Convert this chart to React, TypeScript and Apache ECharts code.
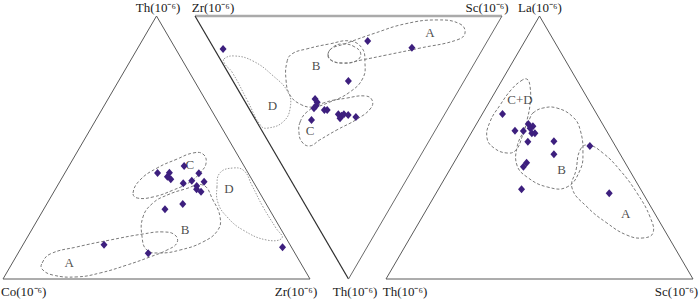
import { useEffect, useRef } from "react";
import * as echarts from "echarts";

type Tern = [number, number, number];

// ---------- Diagram 1: Th (apex) – Co (lower left) – Zr (lower right); values [Th, Co, Zr] %
const thCoZrSamples: Tern[] = [
  [40.3, 29.5, 30.2], [40.4, 25.6, 34.0], [38.9, 27.0, 34.1], [37.9, 26.4, 35.7],
  [43.0, 19.5, 37.5], [40.2, 16.1, 43.7], [36.4, 23.1, 40.5], [37.4, 19.8, 42.8],
  [37.0, 16.0, 47.0], [35.4, 19.2, 45.4], [34.1, 19.9, 46.0], [33.2, 18.9, 47.9],
  [28.5, 27.2, 44.3], [26.5, 34.0, 39.5], [13.0, 60.6, 26.4], [9.8, 47.8, 42.4],
  [12.1, 2.9, 85.0],
];
const thCoZrFieldC: Tern[] = [
  [32.7, 41.3, 26.0], [37.6, 36.6, 25.8], [42.2, 28.7, 29.1], [45.6, 20.5, 33.9],
  [47.9, 14.2, 37.9], [47.5, 11.1, 41.4], [44.1, 11.8, 44.1], [40.3, 15.7, 44.0],
  [36.9, 20.6, 42.5], [33.8, 27.7, 38.5], [31.2, 35.5, 33.3], [30.8, 40.9, 28.3],
];
const thCoZrFieldB: Tern[] = [
  [31.9, 30.6, 37.5], [34.2, 23.6, 42.2], [35.7, 17.0, 47.3], [30.0, 16.6, 53.4],
  [23.6, 17.5, 58.9], [18.6, 20.7, 60.7], [14.1, 27.8, 58.1], [11.0, 36.9, 52.1],
  [9.9, 43.9, 46.2], [11.0, 47.6, 41.4], [16.0, 46.7, 37.3], [23.6, 42.6, 33.8],
  [28.9, 36.7, 34.4],
];
const thCoZrFieldA: Tern[] = [
  [6.1, 84.2, 9.7], [9.5, 79.9, 10.6], [12.2, 69.8, 18.0], [14.8, 57.8, 27.4],
  [17.1, 45.9, 37.0], [17.9, 38.9, 43.2], [16.7, 35.6, 47.7], [13.7, 36.5, 49.8],
  [11.0, 41.1, 47.9], [8.4, 47.9, 43.7], [5.3, 57.0, 37.7], [2.3, 67.2, 30.5],
  [0.8, 75.5, 23.7], [1.5, 83.0, 15.5], [3.8, 85.4, 10.8],
];
const thCoZrFieldD: Tern[] = [
  [35.0, 12.8, 52.2], [40.3, 9.2, 50.5], [42.2, 4.0, 53.8], [41.1, 0.9, 58.0],
  [35.7, 1.1, 63.2], [27.4, 1.6, 71.0], [19.4, 1.4, 79.2], [15.6, 1.3, 83.1],
  [14.8, 6.6, 78.6], [18.6, 12.5, 68.9], [23.6, 15.2, 61.2], [28.9, 15.5, 55.6],
];
const thCoZrFieldNames = ["C", "D", "B", "A"];
const thCoZrFieldLabelPos: Tern[] = [
  [43.7, 17.3, 39.0], [34.6, 9.1, 56.3], [19.0, 31.2, 49.8], [6.1, 75.4, 18.5],
];

// ---------- Diagram 2 (inverted): Zr (upper left) – Sc (upper right) – Th (bottom); values [Th, Zr, Sc] %
const thZrScSamples: Tern[] = [
  [12.5, 84.6, 2.9], [9.5, 39.0, 51.5], [12.1, 23.3, 64.6], [24.7, 37.7, 37.6],
  [31.6, 45.1, 23.3], [32.8, 43.8, 23.4], [34.1, 43.5, 22.4], [35.1, 43.7, 21.2],
  [35.7, 40.0, 24.3], [35.7, 39.1, 25.2], [39.5, 42.3, 18.2], [37.4, 34.6, 28.0],
  [37.9, 33.3, 28.8], [37.4, 32.8, 29.8], [37.6, 31.3, 31.1], [38.9, 33.3, 27.8],
  [38.4, 28.4, 33.2],
];
const thZrScFieldA: Tern[] = [
  [12.9, 49.6, 37.5], [10.6, 45.9, 43.5], [6.5, 38.1, 55.4], [3.0, 30.1, 66.9],
  [1.5, 20.4, 78.1], [3.0, 12.2, 84.8], [6.5, 8.8, 84.7], [9.1, 10.1, 80.8],
  [12.2, 20.6, 67.2], [14.8, 30.1, 55.1], [16.7, 37.3, 46.0], [17.9, 42.8, 39.3],
  [16.3, 47.9, 35.8],
];
const thZrScFieldALoop: Tern[] = [
  [14.8, 49.3, 35.9], [11.8, 49.1, 39.1], [10.6, 46.5, 42.9], [11.8, 42.0, 46.2],
  [14.4, 38.8, 46.8], [17.1, 39.0, 43.9], [17.9, 42.8, 39.3], [17.1, 46.8, 36.1],
];
const thZrScFieldB: Tern[] = [
  [17.5, 61.3, 21.2], [14.4, 61.2, 24.4], [12.5, 57.3, 30.2], [10.6, 50.8, 38.6],
  [9.5, 44.8, 45.7], [12.2, 39.5, 48.3], [17.5, 35.9, 46.6], [23.6, 33.5, 42.9],
  [28.9, 35.1, 36.0], [32.7, 39.7, 27.6], [34.6, 44.3, 21.1], [33.5, 49.0, 17.5],
  [30.0, 54.1, 15.9], [24.3, 58.2, 17.5],
];
const thZrScFieldC: Tern[] = [
  [40.3, 45.6, 14.1], [36.5, 45.3, 18.2], [33.1, 41.7, 25.2], [31.2, 34.9, 33.9],
  [30.4, 29.4, 40.2], [31.9, 26.4, 41.7], [35.0, 25.2, 39.8], [39.2, 27.6, 33.2],
  [43.3, 32.1, 24.6], [47.1, 35.8, 17.1], [49.4, 37.9, 12.7], [47.9, 41.2, 10.9],
  [44.1, 44.1, 11.8],
];
const thZrScFieldD: Tern[] = [
  [16.3, 82.4, 1.3], [15.2, 79.4, 5.4], [17.1, 72.6, 10.3], [22.4, 63.7, 13.9],
  [28.9, 55.3, 15.8], [35.0, 51.5, 13.5], [40.3, 51.2, 8.5], [42.6, 54.9, 2.5],
  [41.8, 57.6, 0.6], [31.9, 67.1, 1.0], [21.3, 77.3, 1.4], [18.3, 81.1, 0.6],
];
const thZrScFieldNames = ["A", "B", "D", "C"];
const thZrScFieldLabelPos: Tern[] = [
  [6.3, 20.3, 73.4], [19.0, 51.1, 29.9], [34.0, 57.8, 8.2], [43.7, 40.7, 15.6],
];

// ---------- Diagram 3: La (apex) – Th (lower left) – Sc (lower right); values [La, Th, Sc] %
const laThScSamples: Tern[] = [
  [62.7, 30.7, 6.6], [56.4, 29.8, 13.8], [56.3, 27.1, 16.6], [58.9, 24.2, 16.9],
  [58.1, 23.1, 18.8], [57.3, 24.4, 18.3], [55.4, 24.8, 19.8], [55.4, 23.8, 20.8],
  [52.2, 27.7, 20.1], [52.4, 19.1, 28.5], [47.4, 21.6, 31.0], [44.2, 32.1, 23.7],
  [42.7, 33.9, 23.4], [34.1, 38.8, 27.1], [50.6, 8.3, 41.1], [32.6, 11.0, 56.4],
];
const laThScFieldCD: Tern[] = [
  [75.3, 18.4, 6.3], [76.0, 16.1, 7.9], [73.4, 16.4, 10.2], [66.9, 19.6, 13.5],
  [60.5, 23.8, 15.7], [54.0, 28.7, 17.3], [49.0, 33.2, 17.8], [47.9, 36.6, 15.5],
  [49.8, 39.9, 10.3], [53.6, 40.3, 6.1], [59.7, 36.3, 4.0], [66.2, 29.7, 4.1],
  [71.9, 23.3, 4.8],
];
const laThScFieldB: Tern[] = [
  [63.1, 20.6, 16.3], [65.0, 16.4, 18.6], [65.0, 11.8, 23.2], [61.6, 8.3, 30.1],
  [56.7, 8.4, 34.9], [47.9, 11.9, 40.2], [41.4, 16.1, 42.5], [35.0, 23.5, 41.5],
  [35.0, 30.0, 35.0], [38.8, 34.7, 26.5], [43.3, 35.7, 21.0], [50.2, 32.2, 17.6],
  [55.9, 27.4, 16.7], [61.2, 22.5, 16.3],
];
const laThScFieldA: Tern[] = [
  [49.0, 12.3, 38.7], [51.0, 8.7, 40.3], [47.9, 5.4, 46.7], [41.4, 3.1, 55.5],
  [32.7, 1.9, 65.4], [23.6, 2.2, 74.2], [17.5, 4.3, 78.2], [15.6, 8.5, 75.9],
  [16.7, 13.2, 70.1], [21.3, 17.4, 61.3], [27.4, 20.8, 51.8], [34.6, 22.1, 43.3],
  [41.4, 17.4, 41.2],
];
const laThScFieldNames = ["C+D", "B", "A"];
const laThScFieldLabelPos: Tern[] = [
  [68.1, 22.3, 9.6], [41.6, 22.0, 36.4], [24.9, 9.5, 65.6],
];

// ---------- Vertex (axis) names
const vertexLabels1 = ["Th(10⁻⁶)", "Co(10⁻⁶)", "Zr(10⁻⁶)"];
const vertexLabels2 = ["Th(10⁻⁶)", "Zr(10⁻⁶)", "Sc(10⁻⁶)"];
const vertexLabels3 = ["La(10⁻⁶)", "Th(10⁻⁶)", "Sc(10⁻⁶)"];

// ternary -> cartesian (triangle frame 0..1)
const upright = (p: Tern): [number, number] => [p[2] / 100 + p[0] / 200, p[0] / 100];
const inverted = (p: Tern): [number, number] => [p[2] / 100 + p[0] / 200, 1 - p[0] / 100];

const FONT = "Liberation Serif";
const MARK = "#3d1f7e";

function fieldSeries(grid: number, pts: [number, number][], dotted: boolean) {
  return {
    type: "custom",
    xAxisIndex: grid,
    yAxisIndex: grid,
    silent: true,
    clip: false,
    z: 1,
    data: [pts[0]],
    renderItem: (_params: any, api: any) => ({
      type: "polygon",
      shape: { points: pts.map((p) => api.coord(p)), smooth: 0.45 },
      style: {
        fill: "none",
        stroke: dotted ? "#9a9a9a" : "#7a7a7a",
        lineWidth: 1,
        lineDash: dotted ? [1.5, 1.5] : [3, 2],
      },
    }),
  };
}

function edgeSeries(grid: number, pts: [number, number][], color: string, width: number) {
  return {
    type: "line",
    xAxisIndex: grid,
    yAxisIndex: grid,
    data: pts,
    symbol: "none",
    silent: true,
    clip: false,
    z: 2,
    lineStyle: { color, width },
  };
}

function sampleSeries(grid: number, pts: [number, number][]) {
  return {
    type: "scatter",
    xAxisIndex: grid,
    yAxisIndex: grid,
    data: pts,
    symbol: "diamond",
    symbolSize: [7, 8],
    z: 5,
    clip: false,
    itemStyle: { color: MARK, opacity: 1 },
  };
}

function labelSeries(grid: number, names: string[], pts: [number, number][]) {
  return {
    type: "scatter",
    xAxisIndex: grid,
    yAxisIndex: grid,
    symbolSize: 1,
    silent: true,
    clip: false,
    z: 4,
    itemStyle: { color: "rgba(0,0,0,0)" },
    label: {
      show: true,
      position: "inside",
      formatter: "{b}",
      color: "#1a1a1a",
      fontSize: 13,
      fontFamily: FONT,
    },
    data: names.map((n, i) => ({ name: n, value: pts[i] })),
  };
}

export default function App() {
  const ref = useRef<HTMLDivElement>(null);
  useEffect(() => {
    if (!ref.current) return;
    const chart = echarts.init(ref.current, undefined, { renderer: "svg" });

    const tri1 = { top: [100, 0, 0] as Tern, left: [0, 100, 0] as Tern, right: [0, 0, 100] as Tern };
    const grids = [0, 1, 2].map((i) => ({
      left: [3, 195, 386][i],
      top: 16,
      width: 307,
      height: 263,
      containLabel: false,
    }));
    const axis = (i: number) => ({
      gridIndex: i,
      type: "value",
      min: 0,
      max: 1,
      show: false,
    });

    const vt = (labels: string[], xs: number[], ys: number[], aligns?: string[]) =>
      labels.map((t, i) => ({
        type: "text",
        x: xs[i],
        y: ys[i],
        style: {
          text: t,
          fill: "#1a1a1a",
          fontSize: 13,
          fontFamily: FONT,
          textAlign: aligns ? aligns[i] : "center",
          textVerticalAlign: "middle",
        },
      }));

    chart.setOption({
      animation: false,
      grid: grids,
      xAxis: [axis(0), axis(1), axis(2)],
      yAxis: [axis(0), axis(1), axis(2)],
      series: [
        // diagram 1
        edgeSeries(0, [upright(tri1.left), upright(tri1.top), upright(tri1.right), upright(tri1.left)], "#5a5a5a", 1),
        fieldSeries(0, thCoZrFieldC.map(upright), false),
        fieldSeries(0, thCoZrFieldB.map(upright), false),
        fieldSeries(0, thCoZrFieldA.map(upright), false),
        fieldSeries(0, thCoZrFieldD.map(upright), true),
        labelSeries(0, thCoZrFieldNames, thCoZrFieldLabelPos.map(upright)),
        sampleSeries(0, thCoZrSamples.map(upright)),
        // diagram 2 (inverted)
        edgeSeries(1, [inverted([0, 100, 0]), inverted([0, 0, 100])], "#aaaaaa", 2.5),
        edgeSeries(1, [inverted([0, 100, 0]), inverted([100, 0, 0])], "#2e2e2e", 1.2),
        edgeSeries(1, [inverted([0, 0, 100]), inverted([100, 0, 0])], "#6a6a6a", 1),
        fieldSeries(1, thZrScFieldA.map(inverted), false),
        fieldSeries(1, thZrScFieldALoop.map(inverted), false),
        fieldSeries(1, thZrScFieldB.map(inverted), false),
        fieldSeries(1, thZrScFieldC.map(inverted), false),
        fieldSeries(1, thZrScFieldD.map(inverted), true),
        labelSeries(1, thZrScFieldNames, thZrScFieldLabelPos.map(inverted)),
        sampleSeries(1, thZrScSamples.map(inverted)),
        // diagram 3
        edgeSeries(2, [upright([0, 100, 0]), upright([100, 0, 0]), upright([0, 0, 100]), upright([0, 100, 0])], "#5a5a5a", 1),
        fieldSeries(2, laThScFieldCD.map(upright), false),
        fieldSeries(2, laThScFieldB.map(upright), false),
        fieldSeries(2, laThScFieldA.map(upright), false),
        labelSeries(2, laThScFieldNames, laThScFieldLabelPos.map(upright)),
        sampleSeries(2, laThScSamples.map(upright)),
      ],
      graphic: [
        ...vt(vertexLabels1, [158, 1, 296], [7, 291, 291], ["center", "left", "center"]),
        ...vt(vertexLabels2, [355, 213, 487], [291, 7, 7]),
        ...vt(vertexLabels3, [540, 405, 698], [7, 291, 291], ["center", "center", "right"]),
      ],
    });
    return () => chart.dispose();
  }, []);
  return (
    <div
      ref={ref}
      style={{ position: "fixed", left: 0, top: 0, width: 700, height: 299, background: "#fff" }}
    />
  );
}
